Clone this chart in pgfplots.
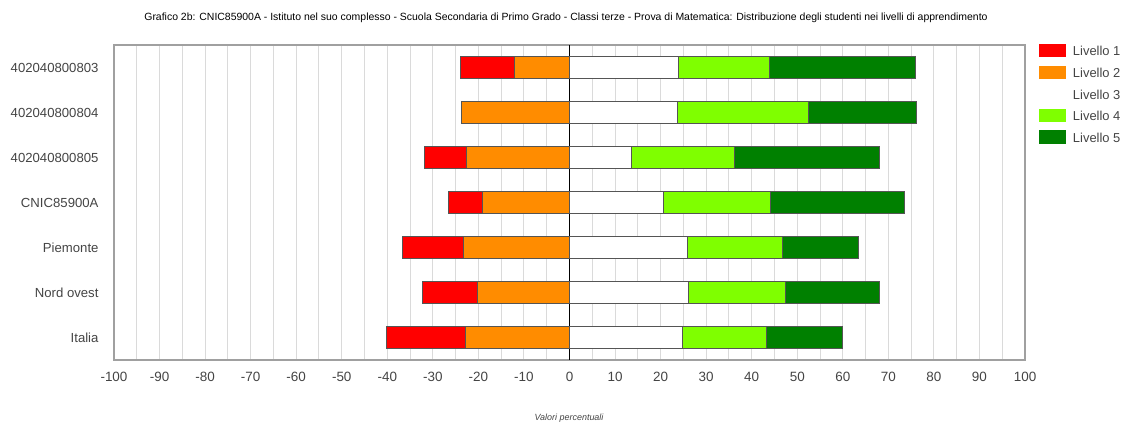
\documentclass[border=0pt]{standalone}
\usepackage{pgfplots}
\pgfplotsset{compat=1.18}
\usepackage{fontspec}
\setmainfont{Liberation Sans}
\definecolor{lone}{RGB}{255,0,0}
\definecolor{ltwo}{RGB}{255,140,0}
\definecolor{lthree}{RGB}{255,255,255}
\definecolor{lfour}{RGB}{127,255,0}
\definecolor{lfive}{RGB}{0,128,0}
\definecolor{barborder}{RGB}{85,85,85}
\definecolor{framegray}{RGB}{160,160,160}
\definecolor{gridgray}{RGB}{218,218,218}
\definecolor{labgray}{RGB}{68,68,68}
\pgfplotsset{
  common/.style={
    at={(114bp,63bp)}, anchor=south west,
    scale only axis, width=911bp, height=315bp,
    xmin=-100, xmax=100, ymin=-0.5, ymax=6.5, y dir=reverse,
    xbar stacked, bar width=22.6bp,
  },
  seg/.style={draw=barborder, line width=1bp, fill=#1},
}
\begin{document}
\begin{tikzpicture}[x=1bp,y=1bp]
\useasboundingbox (0,0) rectangle (1121,423);
% negative side: Livello 2 then Livello 1
\begin{axis}[common,
  axis line style={framegray, line width=1.6bp},
  xtick={-100,-90,...,100}, minor xtick={-95,-85,...,95},
  xmajorgrids, xminorgrids,
  major grid style={gridgray, line width=1bp},
  minor grid style={gridgray, line width=1bp},
  extra x ticks={0}, extra x tick labels={},
  extra x tick style={grid=major, major grid style={black, line width=1bp}},
  major tick length=0pt, minor tick length=0pt,
  ytick={0,1,2,3,4,5,6},
  yticklabels={402040800803,402040800804,402040800805,CNIC85900A,Piemonte,Nord ovest,Italia},
  xticklabel style={font=\fontsize{13.5}{15}\selectfont, text=labgray, yshift=-9bp},
  yticklabel style={font=\fontsize{13.2}{15}\selectfont, text=labgray, xshift=-12bp},
  /pgf/number format/assume math mode=true,
]
\addplot[seg=ltwo] coordinates {(-12,0) (-23.8,1) (-22.7,2) (-19.1,3) (-23.2,4) (-20.3,5) (-22.8,6)};
\addplot[seg=lone] coordinates {(-12,0) (0,1) (-9.1,2) (-7.4,3) (-13.4,4) (-11.9,5) (-17.3,6)};
\end{axis}
% positive side: Livello 3, 4, 5
\begin{axis}[common, hide axis,
  legend style={at={(1.0154,1.004)}, anchor=north west, draw=none, fill=none,
    inner sep=0pt, row sep=6.1bp,
    font=\fontsize{13}{15}\selectfont,
    nodes={inner ysep=0pt, inner xsep=7bp, text=labgray, text height=9.5bp, text depth=3.5bp}},
  legend cell align=left,
  legend image code/.code={\fill[#1, draw=none] (0bp,-4.3bp) rectangle (26.7bp,9bp);},
]
\addlegendimage{fill=lone}
\addlegendentry{Livello 1}
\addlegendimage{fill=ltwo}
\addlegendentry{Livello 2}
\addplot[seg=lthree] coordinates {(24,0) (23.8,1) (13.6,2) (20.6,3) (25.9,4) (26.2,5) (24.8,6)};
\addlegendentry{Livello 3}
\addplot[seg=lfour] coordinates {(20,0) (28.6,1) (22.7,2) (23.5,3) (20.9,4) (21.3,5) (18.5,6)};
\addlegendentry{Livello 4}
\addplot[seg=lfive] coordinates {(32,0) (23.8,1) (31.8,2) (29.4,3) (16.6,4) (20.6,5) (16.6,6)};
\addlegendentry{Livello 5}
\end{axis}
\node[font=\fontsize{10.5}{12}\selectfont, anchor=center] at (566,405) {Grafico 2b: CNIC85900A - Istituto nel suo complesso - Scuola Secondaria di Primo Grado - Classi terze - Prova di Matematica: Distribuzione degli studenti nei livelli di apprendimento};
\node[font=\fontsize{9}{11}\selectfont\itshape, text=labgray, anchor=center] at (569,5) {Valori percentuali};
\end{tikzpicture}
\end{document}
